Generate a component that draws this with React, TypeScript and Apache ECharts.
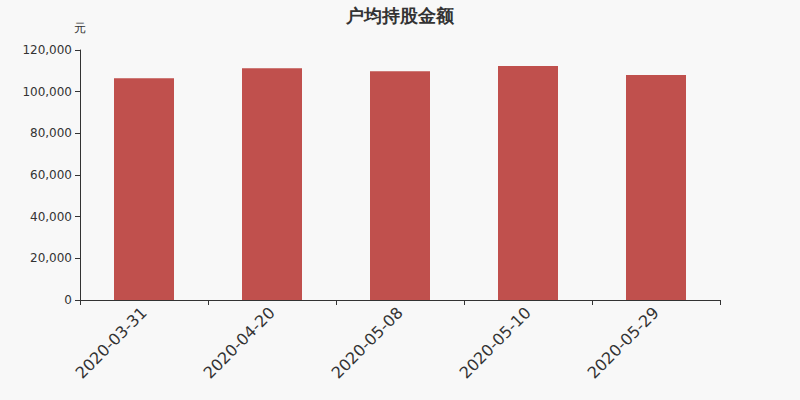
import { useEffect, useRef } from "react";
import * as echarts from "echarts";

const dates = ["2020-03-31", "2020-04-20", "2020-05-08", "2020-05-10", "2020-05-29"];
const avgHolding = [106400, 111200, 109760, 112320, 108000];

export default function App() {
  const chartRef = useRef<HTMLDivElement | null>(null);

  useEffect(() => {
    document.body.style.margin = "0";
    if (!chartRef.current) return;
    const chart = echarts.init(chartRef.current, undefined, { renderer: "svg" });
    chart.setOption({
      animation: false,
      backgroundColor: "#f8f8f8",
      title: {
        text: "户均持股金额",
        left: "center",
        top: 1,
        textStyle: { fontSize: 18, fontWeight: "bold", color: "#333", fontFamily: "DejaVu Sans" }
      },
      grid: { left: 80, right: 80, top: 50, bottom: 100 },
      xAxis: {
        type: "category",
        data: dates,
        axisLine: { lineStyle: { color: "#333" } },
        axisTick: { show: true, alignWithLabel: false },
        axisLabel: { rotate: 45, fontSize: 16, color: "#333", fontFamily: "DejaVu Sans", margin: 10 }
      },
      yAxis: {
        type: "value",
        name: "元",
        nameGap: 16,
        nameTextStyle: { color: "#333", fontSize: 12, align: "center" },
        min: 0,
        max: 120000,
        interval: 20000,
        axisLine: { show: true, lineStyle: { color: "#333" } },
        axisTick: { show: true },
        splitLine: { show: false },
        axisLabel: {
          color: "#333",
          fontSize: 12,
          fontFamily: "DejaVu Sans",
          formatter: (v: number) => v.toLocaleString("en-US")
        }
      },
      series: [
        {
          name: "户均持股金额",
          type: "bar",
          barWidth: 60,
          itemStyle: { color: "#c0504d" },
          data: avgHolding
        }
      ]
    });
    return () => {
      chart.dispose();
    };
  }, []);

  return <div ref={chartRef} style={{ width: 800, height: 400 }} />;
}
